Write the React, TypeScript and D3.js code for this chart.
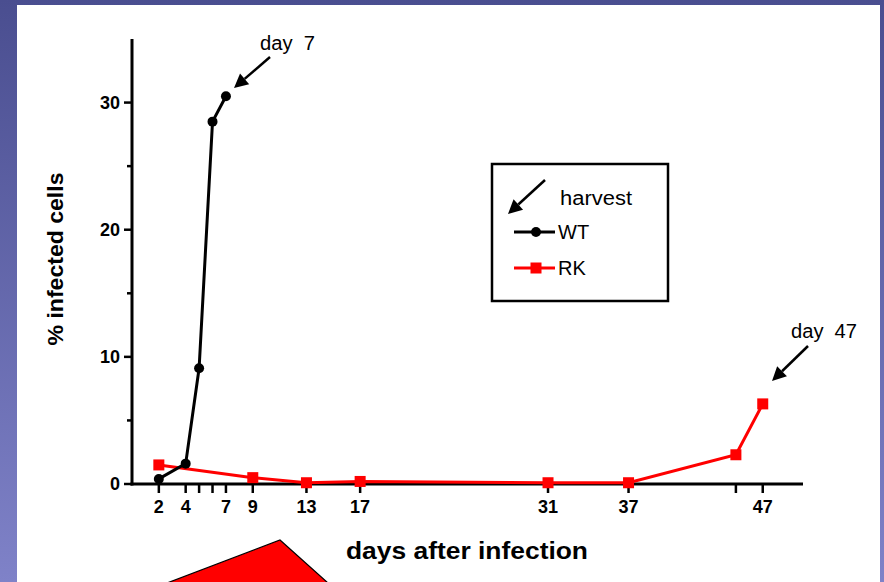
import React from "react";
import * as d3 from "d3";

const wtDays = [2, 4, 5, 6, 7];
const wtValues = [0.4, 1.6, 9.1, 28.5, 30.5];
const rkDays = [2, 9, 13, 17, 31, 37, 45, 47];
const rkValues = [1.5, 0.5, 0.1, 0.2, 0.1, 0.1, 2.3, 6.3];
const xTicks = [2, 4, 5, 6, 7, 9, 13, 17, 31, 37, 45, 47];
const xTickLabels = ["2", "4", "", "", "7", "9", "13", "17", "31", "37", "", "47"];
const yMajorTicks = [0, 10, 20, 30];
const yMinorTicks = [5, 15, 25];

const W = 884;
const H = 582;
const FONT = "'Liberation Sans', Arial, sans-serif";

function Arrow({ x1, y1, x2, y2 }: { x1: number; y1: number; x2: number; y2: number }) {
  const ang = Math.atan2(y2 - y1, x2 - x1);
  const hl = 14;
  const hw = 7;
  const bx = x2 - hl * Math.cos(ang);
  const by = y2 - hl * Math.sin(ang);
  const px = -Math.sin(ang);
  const py = Math.cos(ang);
  const pts = [
    [x2, y2],
    [bx + px * hw, by + py * hw],
    [bx - px * hw, by - py * hw],
  ];
  return (
    <g>
      <line x1={x1} y1={y1} x2={bx} y2={by} stroke="#000" strokeWidth={2.5} />
      <polygon points={pts.map((p) => p.join(",")).join(" ")} fill="#000" />
    </g>
  );
}

export default function App() {
  const x = d3.scaleLinear().domain([0, 50]).range([132, 803]);
  const y = d3.scaleLinear().domain([0, 35]).range([484, 39]);
  const line = d3
    .line<[number, number]>()
    .x((d) => x(d[0]))
    .y((d) => y(d[1]));
  const wt: [number, number][] = wtDays.map((d, i) => [d, wtValues[i]]);
  const rk: [number, number][] = rkDays.map((d, i) => [d, rkValues[i]]);

  return (
    <svg
      width={W}
      height={H}
      style={{ position: "absolute", left: 0, top: 0, display: "block" }}
      fontFamily={FONT}
    >
      <defs>
        <linearGradient id="bg" x1="0" y1="0" x2="0" y2="1">
          <stop offset="0" stopColor="#4a4e90" />
          <stop offset="1" stopColor="#7f82c8" />
        </linearGradient>
      </defs>
      <rect x={0} y={0} width={W} height={H} fill="url(#bg)" />
      <rect x={17} y={5} width={863} height={H - 5} fill="#fff" />

      {/* Red decorative shape */}
      <polygon points="167,583 280,540 328,583" fill="#ff0000" stroke="#000" strokeWidth={1.2} />

      {/* Y axis */}
      <line x1={x(0)} y1={y(35)} x2={x(0)} y2={y(0) + 1.5} stroke="#000" strokeWidth={3} />
      {yMajorTicks.map((t) => (
        <g key={"ym" + t}>
          <line x1={x(0) - 8} x2={x(0)} y1={y(t)} y2={y(t)} stroke="#000" strokeWidth={2.5} />
          <text
            x={x(0) - 12}
            y={y(t)}
            dy="0.36em"
            textAnchor="end"
            fontSize={18}
            fontWeight="bold"
          >
            {t}
          </text>
        </g>
      ))}
      {yMinorTicks.map((t) => (
        <line key={"yn" + t} x1={x(0) - 5} x2={x(0)} y1={y(t)} y2={y(t)} stroke="#000" strokeWidth={2.5} />
      ))}

      {/* X axis */}
      <line x1={x(0) - 1.5} y1={y(0)} x2={x(50)} y2={y(0)} stroke="#000" strokeWidth={3} />
      {xTicks.map((t, i) => (
        <g key={"xt" + t}>
          <line x1={x(t)} x2={x(t)} y1={y(0)} y2={y(0) + 9} stroke="#000" strokeWidth={2.5} />
          {xTickLabels[i] && (
            <text x={x(t)} y={y(0) + 29} textAnchor="middle" fontSize={18} fontWeight="bold">
              {xTickLabels[i]}
            </text>
          )}
        </g>
      ))}

      {/* Axis titles */}
      <text
        transform={`translate(63,259) rotate(-90)`}
        textAnchor="middle"
        fontSize={22}
        fontWeight="bold"
        textLength={173}
        lengthAdjust="spacingAndGlyphs"
      >
        % infected cells
      </text>
      <text
        x={467}
        y={559}
        textAnchor="middle"
        fontSize={23}
        fontWeight="bold"
        textLength={242}
        lengthAdjust="spacingAndGlyphs"
      >
        days after infection
      </text>

      {/* RK series */}
      <path d={line(rk) || ""} fill="none" stroke="#ff0000" strokeWidth={3} />
      {rk.map((d, i) => (
        <rect key={"rk" + i} x={x(d[0]) - 5.5} y={y(d[1]) - 5.5} width={11} height={11} fill="#ff0000" />
      ))}

      {/* WT series */}
      <path d={line(wt) || ""} fill="none" stroke="#000" strokeWidth={3} />
      {wt.map((d, i) => (
        <circle key={"wt" + i} cx={x(d[0])} cy={y(d[1])} r={5} fill="#000" />
      ))}

      {/* Annotations */}
      <text x={260} y={50} fontSize={20} textLength={55} lengthAdjust="spacingAndGlyphs">
        day&#160;&#160;7
      </text>
      <Arrow x1={270} y1={57} x2={234} y2={88} />
      <text x={791} y={338} fontSize={20} textLength={66} lengthAdjust="spacingAndGlyphs">
        day&#160;&#160;47
      </text>
      <Arrow x1={808} y1={346} x2={772} y2={381} />

      {/* Legend */}
      <rect x={492} y={164} width={176} height={137} fill="#fff" stroke="#000" strokeWidth={2.5} />
      <Arrow x1={545} y1={180} x2={508} y2={214} />
      <text x={560} y={205} fontSize={20} textLength={72} lengthAdjust="spacingAndGlyphs">
        harvest
      </text>
      <line x1={514} x2={555} y1={232} y2={232} stroke="#000" strokeWidth={3} />
      <circle cx={536} cy={232} r={5} fill="#000" />
      <text x={558} y={239} fontSize={20}>
        WT
      </text>
      <line x1={514} x2={555} y1={268} y2={268} stroke="#ff0000" strokeWidth={3} />
      <rect x={530.5} y={262.5} width={11} height={11} fill="#ff0000" />
      <text x={558} y={275} fontSize={20}>
        RK
      </text>
    </svg>
  );
}
